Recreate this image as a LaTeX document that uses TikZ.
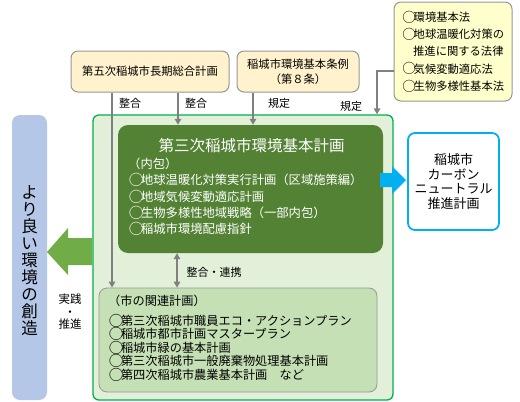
\documentclass[tikz,border=0pt]{standalone}
\usepackage{fontspec}
\usepackage{graphicx}
\setmainfont{Noto Sans CJK JP}
\usetikzlibrary{arrows.meta}
\newcommand\maru{\makebox[1.05em][c]{\hspace{0.25em}\raisebox{-0.08em}{\scalebox{1.2}{○}}}}
\definecolor{beige}{RGB}{255,242,204}
\definecolor{lawy}{RGB}{255,255,204}
\definecolor{boxgray}{RGB}{150,150,150}
\definecolor{arrgray}{RGB}{128,128,128}
\definecolor{outerfill}{RGB}{226,240,217}
\definecolor{outerline}{RGB}{0,176,80}
\definecolor{maingreen}{RGB}{84,130,53}
\definecolor{lowfill}{RGB}{197,224,180}
\definecolor{leftblue}{RGB}{180,199,231}
\definecolor{cyanb}{RGB}{0,176,240}
\definecolor{arrgreen}{RGB}{112,173,71}
\begin{document}
\begin{tikzpicture}[x=1pt,y=-1pt,
  box/.style={draw=boxgray, line width=1pt, rounded corners=7pt, inner sep=0pt},
  arr/.style={draw=arrgray, line width=1.6pt, -{Triangle[width=6.5pt,length=6pt]}},
  dblarr/.style={draw=arrgray, line width=1.6pt, {Triangle[width=6.5pt,length=6pt]}-{Triangle[width=6.5pt,length=6pt]}},
  lbl/.style={font=\fontsize{11}{13}\selectfont, inner sep=0pt},
  ]
\useasboundingbox (0,0) rectangle (520,402);
% outer frame
\node[draw=outerline, fill=outerfill, line width=1.3pt, rounded corners=6pt, minimum width=300pt, minimum height=285pt, inner sep=0pt] (outer) at (243,257.5) {};
% main plan
\node[fill=maingreen, rounded corners=10pt, minimum width=265pt, minimum height=128pt, inner sep=0pt] (main) at (250.5,189) {};
\node[font=\fontsize{15.5}{18}\selectfont, text=white, inner sep=0pt] (maintitle) at (251.5,146) {第三次稲城市環境基本計画};
\node[font=\fontsize{12.3}{16.2}\selectfont, text=white, align=left, anchor=north west, inner sep=0pt] (mainlist) at (128,158) {（内包）\\\maru 地球温暖化対策実行計画（区域施策編）\\\maru 地域気候変動適応計画\\\maru 生物多様性地域戦略（一部内包）\\\maru 稲城市環境配慮指針};
% lower box
\node[draw=boxgray, fill=lowfill, line width=0.8pt, rounded corners=8pt, minimum width=278pt, minimum height=104pt, inner sep=0pt] (lower) at (238,340) {};
\node[font=\fontsize{12.2}{13.5}\selectfont, align=left, anchor=north west, inner sep=0pt] (lowlist) at (108,295) {（市の関連計画）\\[6pt]\maru 第三次稲城市職員エコ・アクションプラン\\\maru 稲城市都市計画マスタープラン\\\maru 稲城市緑の基本計画\\\maru 第三次稲城市一般廃棄物処理基本計画\\\maru 第四次稲城市農業基本計画　など};
% carbon neutral box
\node[draw=cyanb, line width=1.8pt, fill=white, rounded corners=7pt, minimum width=91pt, minimum height=97pt, align=center, font=\fontsize{13}{14.5}\selectfont, inner sep=0pt] (cn) at (453.5,181.5) {稲城市\\カーボン\\ニュートラル\\推進計画};
% left box
\node[fill=leftblue, rounded corners=8pt, minimum width=35pt, minimum height=285pt, inner sep=0pt] (leftbox) at (29.5,257.5) {};
\node[font=\fontsize{16.5}{17}\selectfont, align=center, inner sep=0pt] (lefttext) at (29.5,261) {よ\\り\\良\\い\\環\\境\\の\\創\\造};
% top boxes
\node[box, fill=beige, minimum width=158pt, minimum height=41pt, font=\fontsize{11.3}{13}\selectfont] (plan5) at (150,71.5) {第五次稲城市長期総合計画};
\node[box, fill=beige, minimum width=122pt, minimum height=41pt, align=center, font=\fontsize{11.3}{15}\selectfont] (jourei) at (298,71.5) {稲城市環境基本条例\\（第８条）};
\node[box, fill=lawy, minimum width=118pt, minimum height=99pt, align=left, font=\fontsize{11.3}{17.3}\selectfont] (law) at (453,51.5) {\maru 環境基本法\\\maru 地球温暖化対策の\\　推進に関する法律\\\maru 気候変動適応法\\\maru 生物多様性基本法};
% connectors
\coordinate (bend) at (377,71);
\draw[arr] (plan5.south -| 112,0) -- (lower.north -| 112,0);
\draw[arr] (plan5.south -| 178,0) -- (main.north -| 178,0);
\draw[arr] (jourei.south -| 253,0) -- (main.north -| 253,0);
\draw[arr] (law.west |- bend) -- (bend) -- (outer.north -| bend);
\draw[dblarr] (main.south -| 177,0) -- (lower.north -| 177,0);
% labels
\node[lbl] (l1) at (130,103) {整合};
\node[lbl] (l2) at (196,103) {整合};
\node[lbl] (l3) at (279,103) {規定};
\node[lbl] (l4) at (351,106) {規定};
\node[lbl] (l5) at (214,272) {整合・連携};
\node[lbl, align=center, font=\fontsize{11.5}{12.5}\selectfont] (l6) at (70,312) {実践\\・\\推進};
% block arrows
\fill[cyanb] (380,173) -- (392,173) -- (392,166) -- (406,180) -- (392,194) -- (392,187) -- (380,187) -- cycle;
\fill[arrgreen] (92,238) -- (68,238) -- (68,228) -- (47,252) -- (68,275) -- (68,265) -- (92,265) -- cycle;
\end{tikzpicture}
\end{document}
